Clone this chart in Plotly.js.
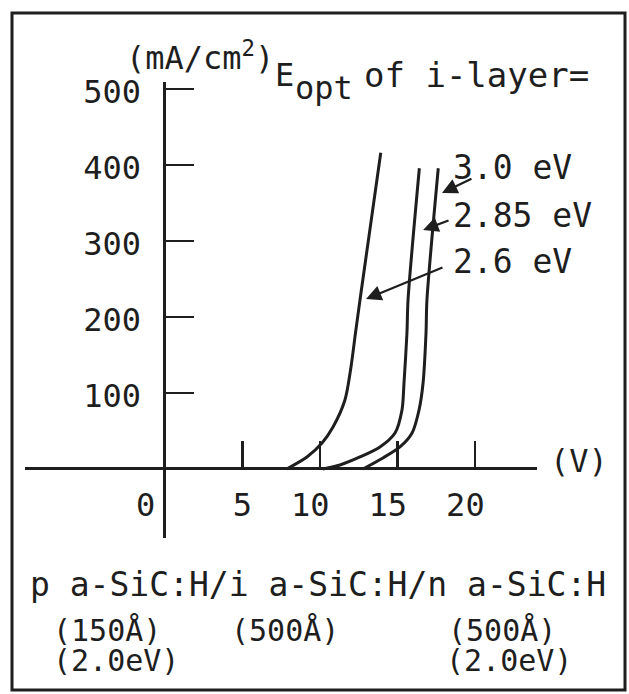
<!DOCTYPE html>
<html><head><meta charset="utf-8">
<script src="https://cdn.plot.ly/plotly-3.0.1.min.js"></script>
<style>html,body{margin:0;padding:0;background:#fff;}#chart{width:629px;height:694px;}</style>
</head><body><div id="chart"></div>
<script>
// ---- data (V in volts, I in mA/cm^2) ----
const seriesNames = ['2.6 eV', '2.85 eV', '3.0 eV'];
const v26  = [7.85, 9.16, 10.13, 10.84, 11.61, 12.0, 12.29, 12.58, 13.92];
const i26  = [0, 15.8, 34.2, 55.3, 90.9, 134.3, 179.1, 222.5, 416.5];
const v285 = [10.19, 11.29, 12.58, 13.87, 14.84, 15.29, 15.42, 15.61, 15.68, 16.41];
const i285 = [0, 5.3, 15.8, 29.0, 47.4, 77.7, 113.2, 179.1, 222.5, 396];
const v30  = [12.77, 14.06, 15.16, 15.94, 16.39, 16.65, 16.84, 16.90, 17.63];
const i30  = [0, 14.5, 29.0, 47.4, 77.7, 113.2, 179.1, 222.5, 396];

const xTickVals = [0, 5, 10, 15, 20];
const xTickText = ['0\u00a0\u00a0', '5', '10\u00a0', '15\u00a0', '20\u00a0'];
const yTickVals = [100, 200, 300, 400, 500];
const yTickText = ['100', '200', '300', '400', '500'];
const xRange = [-9.03, 24.0];
const yRange = [-90.9, 509.6];

const labelText = ['2.6 eV', '2.85 eV', '3.0 eV'];
const labelV = [18.45, 18.45, 18.45];
const labelI = [272.6, 333.2, 396.4];
const arrowHeadV = [12.97, 16.65, 17.87];
const arrowHeadI = [223.9, 314.7, 363.4];
const arrowTailV = [18.0, 18.39, 19.87];
const arrowTailI = [266.0, 327.9, 383.2];

const unitY = '(mA/cm<sup>2</sup>)';
const titleParts = ['E', 'opt', 'of i-layer='];
const unitX = '(V)';
const structureLine = 'p a-SiC:H/i a-SiC:H/n a-SiC:H';
const layerNotes = ['(150Å)', '(2.0eV)', '(500Å)', '(500Å)', '(2.0eV)'];

// ---- styling / layout ----
const ink = '#1e1e1e';
const FONT = 'DejaVu Sans Mono, monospace';
const f = s => ({family: FONT, size: s, color: ink});
const W = 629, H = 694, M = {l: 25, r: 92, t: 82, b: 156};
const pw = W - M.l - M.r, ph = H - M.t - M.b;
const PX = p => (p - M.l) / pw;          // page px -> paper x
const PY = p => (H - M.b - p) / ph;      // page px -> paper y

const mk = (x, y, n) => ({x: x, y: y, name: n, type: 'scatter', mode: 'lines',
  line: {color: ink, width: 3, shape: 'spline', smoothing: 0.8},
  hoverinfo: 'skip', showlegend: false, cliponaxis: false});
const traces = [mk(v26, i26, seriesNames[0]), mk(v285, i285, seriesNames[1]), mk(v30, i30, seriesNames[2])];

const ann = [];
for (let k = 0; k < 3; k++) {
  ann.push({xref: 'x', yref: 'y', x: labelV[k], y: labelI[k], text: labelText[k],
    showarrow: false, xanchor: 'left', yanchor: 'middle', font: f(33)});
  ann.push({xref: 'x', yref: 'y', x: arrowHeadV[k], y: arrowHeadI[k],
    axref: 'x', ayref: 'y', ax: arrowTailV[k], ay: arrowTailI[k], text: '',
    showarrow: true, arrowhead: 2, arrowsize: 1.4, arrowwidth: 2.2, arrowcolor: ink, standoff: 0});
}
const P = (px, py, t, s) => ann.push({xref: 'paper', yref: 'paper', x: PX(px), y: PY(py), text: t,
  showarrow: false, xanchor: 'left', yanchor: 'middle', font: f(s)});
P(124, 56, unitY, 32);
P(273, 75, titleParts[0], 32);
P(293, 88, titleParts[1], 32);
P(362, 75, titleParts[2], 34);
P(548, 461, unitX, 32);
P(28, 584, structureLine, 33);
const noteX = [51, 51, 229, 446, 444];
const noteY = [630, 660, 630, 630, 660];
layerNotes.forEach((t, k) => P(noteX[k], noteY[k], t, 30));

const layout = {
  width: W, height: H, margin: Object.assign({pad: 0}, M),
  paper_bgcolor: '#ffffff', plot_bgcolor: '#ffffff', showlegend: false,
  font: f(32),
  xaxis: {range: xRange, anchor: 'free', position: (0 - yRange[0]) / (yRange[1] - yRange[0]),
    showgrid: false, showline: false, zeroline: true, zerolinecolor: ink, zerolinewidth: 3,
    tickmode: 'array', tickvals: xTickVals, ticktext: xTickText, ticks: 'inside', ticklen: 28,
    tickwidth: 2.4, tickcolor: ink, tickfont: f(32), ticklabelstandoff: 14, fixedrange: true},
  yaxis: {range: yRange, anchor: 'free', position: (0 - xRange[0]) / (xRange[1] - xRange[0]),
    showgrid: false, showline: false, zeroline: true, zerolinecolor: ink, zerolinewidth: 3,
    tickmode: 'array', tickvals: yTickVals, ticktext: yTickText, ticks: 'inside', ticklen: 28,
    tickwidth: 2.4, tickcolor: ink, tickfont: f(32), ticklabelstandoff: 24, ticklabelshift: 3, fixedrange: true},
  shapes: [{type: 'rect', xref: 'paper', yref: 'paper', x0: PX(12), x1: PX(625), y0: PY(690), y1: PY(13),
    line: {color: ink, width: 3}, fillcolor: 'rgba(0,0,0,0)'}],
  annotations: ann
};
Plotly.newPlot('chart', traces, layout, {staticPlot: true, displayModeBar: false});
</script></body></html>
